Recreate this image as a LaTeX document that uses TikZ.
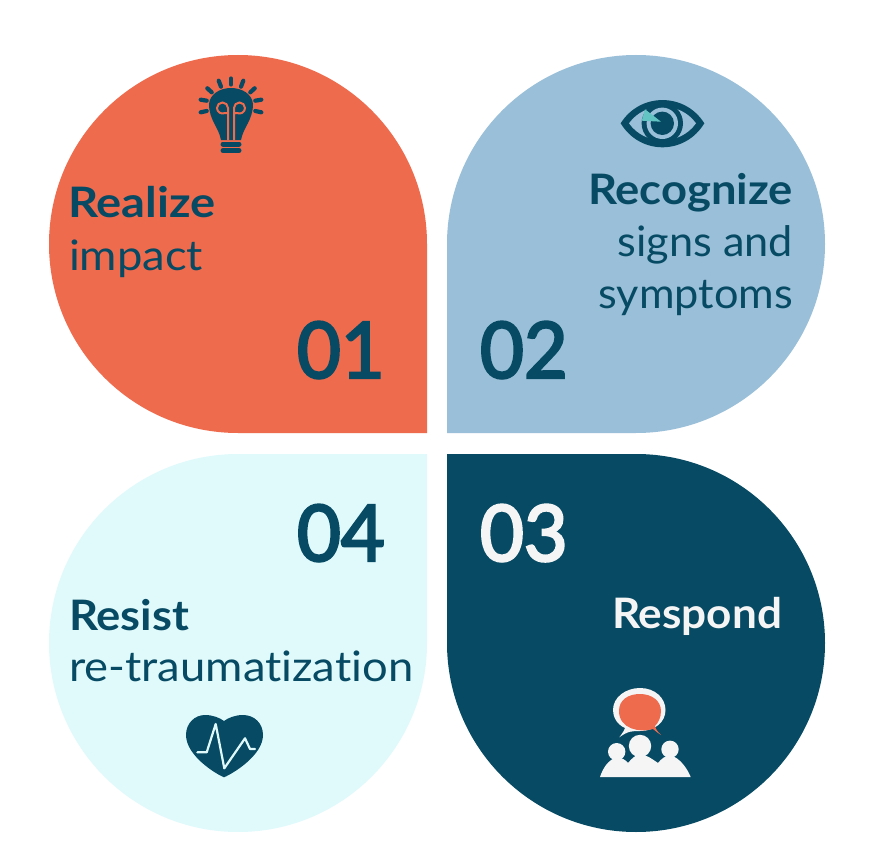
\documentclass[tikz,border=0pt]{standalone}
\usepackage{fontspec}
\setmainfont{Lato}[FakeStretch=1.08,Ligatures=NoCommon]
\newfontfamily\numfont{Lato}[FakeBold=3,FakeStretch=0.97]
\newfontfamily\slimfont{Lato}[FakeStretch=1.03,Ligatures=NoCommon]
\newfontfamily\midfont{Lato}[FakeStretch=1.05,Ligatures=NoCommon]
\newfontfamily\widefont{Lato}[FakeStretch=1.12,Ligatures=NoCommon]
\definecolor{petalA}{HTML}{EF6B4E}
\definecolor{petalB}{HTML}{9ABFD9}
\definecolor{petalC}{HTML}{074A63}
\definecolor{petalD}{HTML}{E0FAFC}
\definecolor{tealmark}{HTML}{62C4C3}
\definecolor{offwhite}{HTML}{F5F5F5}
\tikzset{
  x=1pt,y=-1pt,
  label/.style={inner sep=0pt,outer sep=0pt,anchor=base west,text=petalC,font=\fontsize{42}{42}\selectfont},
  labelr/.style={label,anchor=base east},
  slim/.style={font=\fontsize{42}{42}\selectfont\slimfont},
  strong/.style={font=\fontsize{42}{42}\selectfont\bfseries},
  strongmid/.style={font=\fontsize{42}{42}\selectfont\midfont\bfseries},
  strongwide/.style={font=\fontsize{42}{42}\selectfont\widefont\bfseries},
  number/.style={label,font=\fontsize{78}{78}\selectfont\numfont},
  ray/.style={draw=petalC,line width=4.2pt,line cap=round},
}
\begin{document}
\begin{tikzpicture}
\useasboundingbox (0,0) rectangle (887,859);
\fill[white] (0,0) rectangle (887,859);
% petals
\fill[petalA] (427,433) -- (238,433) arc[start angle=90,delta angle=270,radius=189] -- cycle;
\fill[petalB] (447,433) -- (447,244) arc[start angle=180,delta angle=270,radius=189] -- cycle;
\fill[petalC] (447,454) -- (636,454) arc[start angle=270,delta angle=270,radius=189] -- cycle;
\fill[petalD] (427,454) -- (427,643) arc[start angle=0,delta angle=270,radius=189] -- cycle;
% texts
\node[label,strongwide] (t1a) at (68,217) {Realize};
\node[label] (t1b) at (69,270) {impact};
\node[number] (n1) at (297,378) {01};
\node[labelr,strong] (t2a) at (793,204) {Recognize};
\node[labelr,slim] (t2b) at (793,256) {signs and};
\node[labelr,slim] (t2c) at (793,308) {symptoms};
\node[number] (n2) at (480,378) {02};
\node[number,text=offwhite] (n3) at (480,561) {03};
\node[label,strongmid,text=offwhite] (t3a) at (612,628) {Respond};
\node[number] (n4) at (297,561) {04};
\node[label,strong] (t4a) at (69,630) {Resist};
\node[label] (t4b) at (69,681) {re-traumatization};
% bulb
\foreach \a/\b/\c/\d in {231/78.5/231/84.5,218.7/80.7/221/86.7,243.3/80.7/241/86.7,207.3/88.3/211.7/92.3,254.7/88.3/250.3/92.3,200.7/99.7/206.7/100.7,261.3/99.7/255.3/100.7,200.7/112.3/206.7/111,261.3/112.3/255.3/111}
  \draw[ray] (\a,\b) -- (\c,\d);
\fill[petalC] (221,140) .. controls (219,128) and (209,120) .. (209,104) .. controls (210,94) and (220,88) .. (231,88) .. controls (242,88) and (252,94) .. (253,104) .. controls (253,120) and (243,128) .. (241,140) -- cycle;
\draw[petalA,line width=2pt] (228,140) -- (228,108) arc[start angle=0,delta angle=-290,radius=5.5] -- (228,113);
\draw[petalA,line width=2pt] (234,140) -- (234,108) arc[start angle=180,delta angle=290,radius=5.5] -- (234,113);
\draw[petalC,line width=5pt,line cap=round] (223,144) -- (239,144) (223,150.5) -- (239,150.5);
% eye
\fill[petalC] (620.7,123.3) .. controls (640,92.3) and (685,92.3) .. (704.3,123.3) .. controls (685,155.3) and (640,155.3) .. (620.7,123.3) -- cycle;
\fill[petalB] (629,123.3) .. controls (645,101) and (680,101) .. (696,123.3) .. controls (680,146) and (645,146) .. (629,123.3) -- cycle;
\fill[petalC] (662.3,123.3) circle[radius=20.7];
\fill[petalB] (662.3,123.3) circle[radius=15.7];
\fill[petalC] (662.3,123.3) circle[radius=11.7];
\fill[tealmark] (645,109.3) -- (641.7,120.7) -- (661,121.7) -- cycle;
% speech bubble and people
\fill[offwhite] (619.3,737.3) .. controls (624,731) and (625,729) .. (625,728) .. controls (616,724) and (613,716) .. (613,710) .. controls (613,697) and (626,688) .. (640,688) .. controls (655,688) and (665.5,698) .. (665.5,710) .. controls (665.5,722) and (655,731) .. (640,731) .. controls (632,731) and (628,731) .. cycle;
\fill[petalA] (661,735) .. controls (656,732) and (655,730) .. (653,729) .. controls (640,733) and (619,729) .. (619,711) .. controls (619,700) and (628,694) .. (640,694) .. controls (652,694) and (661,701) .. (661,711) .. controls (661,718) and (658,723) .. (655,726) .. controls (656,730) and (658,732) .. cycle;
\fill[offwhite] (600,777) .. controls (603,768) and (608,760) .. (617,757) .. controls (622,758) and (626,760) .. (628,763) .. controls (632,758) and (636,755) .. (640,754) .. controls (647,755) and (652,759) .. (658,763) .. controls (661,759) and (665,756) .. (670,755) .. controls (680,758) and (687,768) .. (690.7,777) -- cycle;
\fill[offwhite] (616.7,751.7) circle[radius=8.7];
\fill[offwhite] (640,746) circle[radius=11.2];
\fill[offwhite] (670,749.3) circle[radius=8.7];
% heart
\fill[petalC] (224,777.3) .. controls (214,773) and (186,755) .. (186,735) .. controls (186,723) and (195,715) .. (205,715) .. controls (213,715) and (220,718) .. (224,721) .. controls (228,718) and (235,715) .. (243,715) .. controls (254,715) and (263,723) .. (263,735) .. controls (263,755) and (234,773) .. (224,777.3) -- cycle;
\draw[petalD,line width=2.2pt,line cap=round,line join=round] (197.3,752.3) -- (206.7,752.3) -- (215.7,724) -- (224.3,768.3) -- (245,738.3) -- (250,749) -- (255,749);
\end{tikzpicture}
\end{document}
